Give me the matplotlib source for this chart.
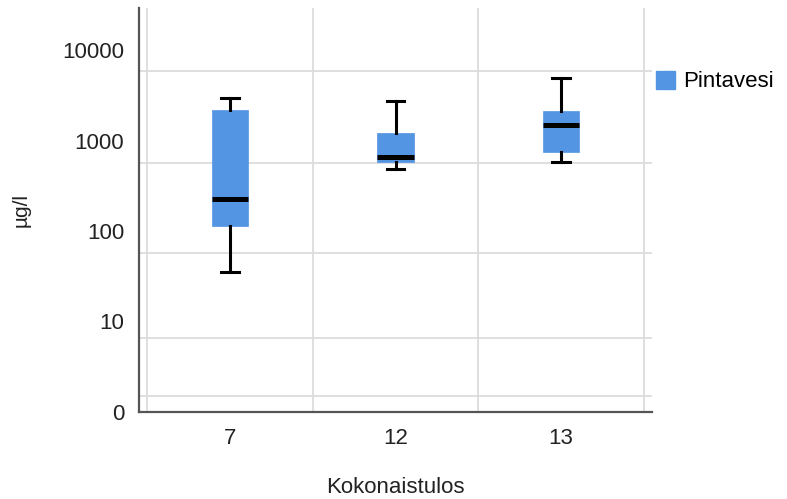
import matplotlib
matplotlib.use("Agg")
import matplotlib.pyplot as plt
from matplotlib.patches import Patch

plt.rcParams['font.family'] = ['Liberation Sans', 'DejaVu Sans']

# data (ug/l, log scale)
categories = ['7', '12', '13']
whislo = [34.8, 480, 583]
q1 = [114, 583, 752]
med = [224, 662, 1496]
q3 = [2175, 1220, 2137]
whishi = [2974, 2735, 4875]
series_name = 'Pintavesi'

ytick_vals = [1, 10, 100, 1000, 10000]
ytick_labels = ['0', '10', '100', '1000', '10000']
# the horizontal grid in the original sits off the labels
hgrid_vals = [1.5, 6.59, 56.5, 560, 5860]

box_color = '#5495e3'
text_color = '#222222'

fig = plt.figure(figsize=(7.87, 4.99), dpi=100)
ax = fig.add_axes([0.177, 0.175, 0.652, 0.808])

stats = []
for i in range(len(categories)):
    stats.append(dict(med=med[i], q1=q1[i], q3=q3[i], whislo=whislo[i],
                      whishi=whishi[i], fliers=[]))

ax.set_yscale('log')
ax.bxp(stats, positions=range(len(categories)), widths=0.22, capwidths=0.107,
       patch_artist=True, showfliers=False,
       boxprops=dict(facecolor=box_color, edgecolor=box_color, linewidth=0.5),
       medianprops=dict(color='black', linewidth=3.6, solid_capstyle='butt'),
       whiskerprops=dict(color='black', linewidth=2.2),
       capprops=dict(color='black', linewidth=2.2),
       zorder=3)

for v in hgrid_vals:
    ax.axhline(v, color='#dcdcdc', linewidth=1.3, zorder=0)
for xv in [-0.5, 0.5, 1.5, 2.5]:
    ax.axvline(xv, color='#dcdcdc', linewidth=1.3, zorder=0)

ax.set_xlim(-0.548, 2.552)
ax.set_ylim(1, 28970)
ax.set_xticks(range(len(categories)))
ax.set_xticklabels(categories)
ax.set_yticks(ytick_vals)
ax.set_yticklabels(ytick_labels)
ax.minorticks_off()
ax.tick_params(axis='both', length=0, labelsize=16, colors=text_color)
ax.tick_params(axis='x', pad=12)
ax.tick_params(axis='y', pad=11)

for s in ['top', 'right']:
    ax.spines[s].set_visible(False)
for s in ['left', 'bottom']:
    ax.spines[s].set_color('#555555')
    ax.spines[s].set_linewidth(1.6)

fig.text(0.503, 0.024, 'Kokonaistulos', fontsize=16, color=text_color,
         ha='center', va='center')
fig.text(0.027, 0.58, 'µg/l', rotation=90, fontsize=15, color=text_color,
         ha='center', va='center')

fig.legend(handles=[Patch(facecolor=box_color, edgecolor=box_color)],
           labels=[series_name], loc='upper left', bbox_to_anchor=(0.834, 0.858),
           frameon=False, fontsize=16, handlelength=0.85, handleheight=0.85,
           handletextpad=0.35, borderaxespad=0, borderpad=0)

fig.savefig('out.png', dpi=100)
